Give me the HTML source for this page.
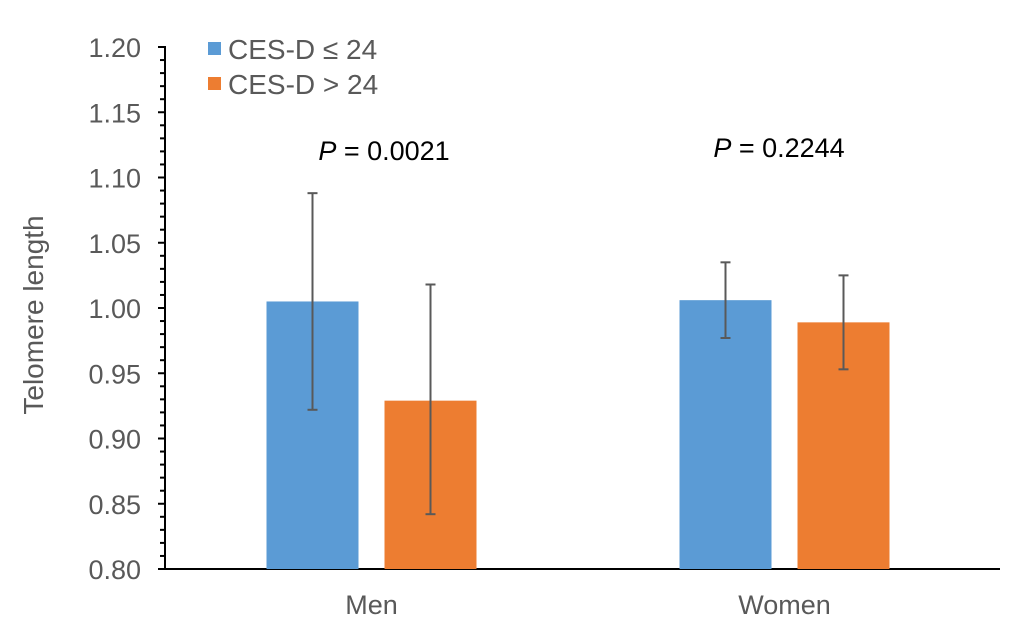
<!DOCTYPE html>
<html><head><meta charset="utf-8"><style>
body{margin:0;background:#fff}
svg{display:block;font-family:"Liberation Sans",Arial,sans-serif}
</style></head><body>
<svg id="chart" width="1020" height="634">
<g id="axes"></g><g id="marks"></g>
<g>
<rect x="208" y="42" width="13" height="13" fill="#5B9BD5"/>
<text x="228" y="59" font-size="28" fill="#595959">CES-D ≤ 24</text>
<rect x="208" y="77" width="13" height="13" fill="#ED7D31"/>
<text x="228" y="94" font-size="28" fill="#595959">CES-D &gt; 24</text>
</g>
<text x="384" y="160" font-size="27" text-anchor="middle" fill="#000"><tspan font-style="italic">P</tspan> = 0.0021</text>
<text x="779" y="157" font-size="27" text-anchor="middle" fill="#000"><tspan font-style="italic">P</tspan> = 0.2244</text>
<text transform="translate(43,315) rotate(-90)" font-size="28" text-anchor="middle" fill="#595959">Telomere length</text>
</svg>
<script>
const categories=["Men","Women"];
const lowValues=[1.005,1.006];
const lowErrLo=[0.922,0.977];
const lowErrHi=[1.088,1.035];
const highValues=[0.929,0.989];
const highErrLo=[0.842,0.953];
const highErrHi=[1.018,1.025];
const yTicks=["0.80","0.85","0.90","0.95","1.00","1.05","1.10","1.15","1.20"];
const NS="http://www.w3.org/2000/svg";
const x0=165,x1=991,yBot=569,yTop=47,vMin=0.8,vMax=1.2;
const y=v=>yBot-(v-vMin)/(vMax-vMin)*(yBot-yTop);
const catW=(x1-x0)/categories.length;
const cx=i=>x0+catW*(i+0.5);
function mk(tag,attrs,parent){const e=document.createElementNS(NS,tag);for(const k in attrs)e.setAttribute(k,attrs[k]);parent.appendChild(e);return e;}
const axes=document.getElementById('axes'),marks=document.getElementById('marks');
yTicks.forEach((t,i)=>{
  const v=parseFloat(t),yy=y(v);
  const tk=mk('line',{x1:158,x2:x0,y1:yy,y2:yy,stroke:'#000','stroke-width':2},axes);
  
  
  const lb=mk('text',{x:141,y:yy+10,'font-size':27,'text-anchor':'end',fill:'#595959'},axes);
  lb.textContent=t;
  
  
  if(i<yTicks.length-1){for(let m=1;m<5;m++){const ym=y(v+0.01*m);
    const mt=mk('line',{x1:160,x2:x0,y1:ym,y2:ym,stroke:'#000','stroke-width':2},axes);
    
    }}
});
const ya=mk('line',{x1:x0,x2:x0,y1:yTop-1,y2:yBot+1,stroke:'#000','stroke-width':2},axes);


const bw=92,gap=26;
categories.forEach((c,i)=>{
  const series=[[lowValues,lowErrLo,lowErrHi,'#5B9BD5','low'],[highValues,highErrLo,highErrHi,'#ED7D31','high']];
  series.forEach((s,j)=>{
    const bx=cx(i)-gap/2-bw+j*(bw+gap);
    const r=mk('rect',{x:bx,y:y(s[0][i]),width:bw,height:yBot-y(s[0][i]),fill:s[3]},marks);
    
    
    const mx=bx+bw/2;
    const g=mk('g',{stroke:'#595959','stroke-width':2},marks);
    
    
    mk('line',{x1:mx,x2:mx,y1:y(s[1][i]),y2:y(s[2][i])},g);
    mk('line',{x1:mx-5,x2:mx+5,y1:y(s[1][i]),y2:y(s[1][i])},g);
    mk('line',{x1:mx-5,x2:mx+5,y1:y(s[2][i]),y2:y(s[2][i])},g);
  });
  const cl=mk('text',{x:cx(i),y:614,'font-size':27,'text-anchor':'middle',fill:'#595959'},axes);
  cl.textContent=c;
  
  
});
const xa=mk('line',{x1:x0-7,x2:1000,y1:yBot,y2:yBot,stroke:'#000','stroke-width':2},axes);


</script>
</body></html>
